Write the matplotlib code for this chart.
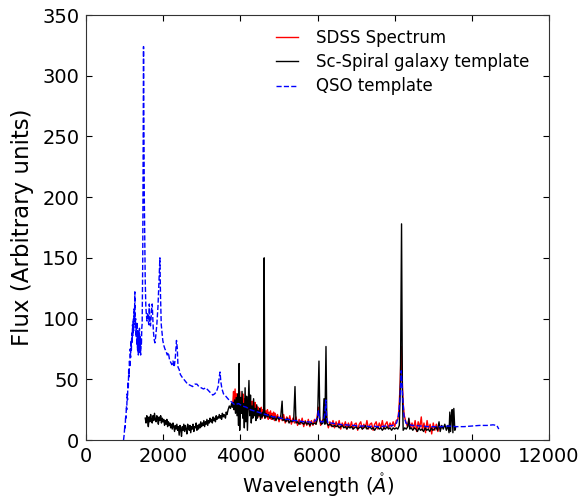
import matplotlib
matplotlib.use("Agg")
import matplotlib.pyplot as plt

# ---------------- data ----------------
sdss_wl = [3800, 3820, 3840, 3860, 3880, 3900, 3920, 3940, 3960, 3980, 4000, 4020, 4040, 4060, 4080,
           4100, 4120, 4140, 4160, 4180, 4200, 4220, 4240, 4260, 4280, 4300, 4320, 4340, 4360, 4380,
           4400, 4420, 4440, 4460, 4480, 4500, 4520, 4540, 4560, 4580, 4600, 4620, 4640, 4660, 4680,
           4700, 4720, 4740, 4760, 4780, 4800, 4820, 4840, 4860, 4880, 4900, 4920, 4960, 5000, 5040,
           5080, 5120, 5160, 5200, 5240, 5280, 5320, 5360, 5400, 5440, 5480, 5520, 5560, 5600, 5640,
           5680, 5720, 5760, 5800, 5840, 5880, 5920, 5960, 5990, 6020, 6050, 6080, 6120, 6160, 6190,
           6215, 6240, 6280, 6320, 6360, 6400, 6440, 6480, 6520, 6560, 6600, 6640, 6680, 6720, 6760,
           6800, 6840, 6880, 6920, 6960, 7000, 7040, 7080, 7120, 7160, 7200, 7240, 7280, 7320, 7360,
           7400, 7440, 7480, 7520, 7560, 7600, 7640, 7680, 7720, 7760, 7800, 7840, 7880, 7920, 7960,
           8000, 8040, 8080, 8110, 8140, 8170, 8195, 8220, 8250, 8290, 8330, 8370, 8410, 8450, 8490,
           8530, 8570, 8610, 8650, 8690, 8720, 8760, 8800, 8840, 8880, 8920, 8960, 9000, 9040, 9080,
           9120, 9160, 9200]
sdss_flux = [30, 40, 25, 42, 27, 38, 23, 36, 26, 40, 24, 35, 27, 38, 23,
             34, 26, 36, 21, 32, 25, 34, 22, 31, 24, 32, 21, 29, 23, 31,
             20, 28, 22, 27, 19, 26, 21, 27, 18, 25, 20, 26, 18, 24, 19,
             25, 17, 23, 18, 24, 17, 22, 18, 23, 16, 22, 17, 21, 15, 20,
             16, 21, 14, 19, 15, 20, 13, 18, 14, 19, 12, 17, 13, 18, 11,
             16, 12, 17, 11, 16, 12, 17, 13, 20, 27, 18, 12, 16, 17, 24,
             32, 15, 10, 15, 11, 16, 10, 15, 11, 16, 9, 14, 11, 15, 9,
             14, 10, 15, 9, 13, 14, 8, 13, 15, 9, 13, 10, 16, 9, 13,
             14, 8, 13, 15, 9, 14, 10, 16, 9, 13, 15, 10, 14, 11, 15,
             11, 16, 17, 25, 45, 77, 50, 30, 20, 15, 11, 17, 10, 14, 9,
             16, 7, 15, 10, 19, 8, 14, 6, 16, 9, 13, 5, 14, 8, 13,
             7, 12, 10]

gal_wl = [1530, 1550, 1570, 1590, 1610, 1630, 1650, 1670, 1690, 1710, 1730, 1750, 1770, 1790, 1810,
          1830, 1850, 1870, 1890, 1910, 1930, 1950, 1970, 1990, 2010, 2030, 2050, 2070, 2090, 2110,
          2130, 2150, 2170, 2190, 2210, 2230, 2250, 2270, 2290, 2310, 2330, 2350, 2370, 2390, 2410,
          2430, 2450, 2470, 2490, 2510, 2530, 2550, 2570, 2590, 2610, 2630, 2650, 2670, 2690, 2710,
          2730, 2750, 2770, 2790, 2810, 2830, 2850, 2870, 2890, 2910, 2930, 2950, 2970, 2990, 3010,
          3030, 3050, 3070, 3090, 3110, 3130, 3150, 3170, 3190, 3210, 3230, 3250, 3270, 3290, 3310,
          3330, 3350, 3370, 3390, 3410, 3430, 3450, 3470, 3490, 3510, 3530, 3550, 3570, 3590, 3610,
          3630, 3650, 3680, 3710, 3740, 3770, 3790, 3810, 3830, 3850, 3870, 3890, 3910, 3930, 3950,
          3965, 3980, 4000, 4020, 4040, 4060, 4080, 4100, 4120, 4140, 4160, 4180, 4200, 4220, 4240,
          4260, 4280, 4300, 4320, 4340, 4360, 4380, 4400, 4420, 4440, 4460, 4480, 4500, 4520, 4540,
          4560, 4580, 4600, 4615, 4630, 4660, 4690, 4720, 4760, 4800, 4840, 4880, 4920, 4960, 5000,
          5040, 5080, 5100, 5140, 5180, 5220, 5260, 5300, 5340, 5380, 5414, 5440, 5480, 5520, 5560,
          5600, 5640, 5680, 5720, 5760, 5800, 5840, 5880, 5920, 5960, 6000, 6036, 6060, 6100, 6140,
          6166, 6190, 6218, 6240, 6280, 6320, 6360, 6400, 6440, 6480, 6520, 6560, 6600, 6640, 6680,
          6720, 6760, 6800, 6840, 6880, 6920, 6960, 7000, 7040, 7080, 7120, 7160, 7200, 7240, 7280,
          7320, 7360, 7400, 7440, 7480, 7520, 7560, 7600, 7640, 7680, 7720, 7760, 7800, 7840, 7880,
          7920, 7960, 8000, 8040, 8080, 8120, 8150, 8178, 8200, 8220, 8260, 8300, 8340, 8368, 8390,
          8430, 8470, 8510, 8550, 8590, 8630, 8670, 8710, 8750, 8790, 8830, 8870, 8910, 8950, 8990,
          9030, 9070, 9110, 9150, 9180, 9220, 9260, 9300, 9340, 9380, 9410, 9430, 9450, 9470, 9490,
          9510, 9534, 9560, 9580]
gal_flux = [18, 14, 20, 16, 11, 19, 15, 21, 17, 14, 20, 16, 22, 17, 15,
            20, 17, 13, 19, 16, 20, 14, 18, 15, 17, 12, 16, 13, 17, 11,
            15, 12, 14, 10, 13, 9, 14, 11, 7, 12, 9, 13, 8, 11, 4,
            12, 9, 3, 11, 8, 13, 7, 12, 9, 5, 13, 10, 8, 12, 6,
            11, 9, 13, 7, 11, 10, 14, 8, 12, 9, 13, 10, 15, 11, 14,
            12, 16, 11, 15, 13, 17, 12, 16, 14, 18, 15, 17, 14, 19, 16,
            18, 15, 20, 17, 19, 18, 21, 18, 20, 17, 22, 19, 21, 20, 18,
            23, 21, 25, 28, 26, 30, 27, 31, 25, 33, 22, 35, 20, 38, 12,
            63, 8, 35, 22, 40, 18, 30, 10, 43, 15, 36, 8, 30, 49, 20,
            37, 14, 28, 18, 34, 20, 26, 16, 29, 18, 24, 20, 26, 17, 22,
            19, 23, 20, 150, 18, 22, 19, 21, 18, 20, 17, 19, 16, 19, 17,
            18, 32, 16, 17, 15, 18, 14, 16, 15, 16, 44, 14, 15, 13, 15,
            14, 13, 15, 13, 14, 12, 14, 13, 14, 13, 18, 65, 16, 13, 14,
            34, 13, 77, 14, 12, 13, 12, 11, 12, 11, 12, 10, 11, 12, 10,
            11, 9, 11, 10, 11, 9, 10, 11, 9, 10, 11, 9, 10, 12, 9,
            10, 11, 9, 10, 8, 10, 11, 9, 10, 8, 10, 9, 11, 9, 10,
            8, 10, 9, 10, 9, 12, 50, 178, 40, 8, 10, 9, 11, 18, 9,
            10, 8, 10, 9, 7, 10, 8, 9, 7, 10, 8, 9, 7, 10, 8,
            9, 11, 8, 15, 7, 12, 9, 13, 8, 12, 6, 23, 7, 20, 25,
            6, 26, 8, 10]

qso_wl = [967, 985, 1000, 1010, 1020, 1030, 1040, 1050, 1060, 1070, 1080, 1090, 1100, 1110, 1120,
          1130, 1140, 1150, 1160, 1170, 1180, 1190, 1200, 1210, 1220, 1230, 1240, 1250, 1260, 1270,
          1280, 1290, 1300, 1310, 1320, 1330, 1340, 1350, 1360, 1370, 1380, 1390, 1400, 1410, 1420,
          1430, 1440, 1450, 1465, 1475, 1485, 1495, 1505, 1515, 1530, 1545, 1560,
          1575, 1590, 1605, 1620, 1635, 1650, 1665, 1680, 1695, 1710, 1725, 1740, 1760, 1780, 1800,
          1830, 1860, 1890, 1910, 1925, 1945, 1965, 1985, 2010, 2040, 2070, 2100, 2130, 2160, 2190,
          2220, 2250, 2280, 2310, 2340, 2360, 2380, 2410, 2440, 2480, 2530, 2580, 2630, 2700, 2760,
          2820, 2870, 2920, 2980, 3040, 3100, 3160, 3220, 3280, 3330, 3380, 3420, 3450, 3470, 3490,
          3520, 3560, 3620, 3700, 3780, 3850, 3950, 4050, 4150, 4250, 4350, 4450, 4550, 4650, 4750,
          4850, 4950, 5050, 5150, 5250, 5350, 5450, 5550, 5650, 5750, 5850, 5950, 6000, 6020, 6040,
          6080, 6150, 6190, 6215, 6235, 6270, 6350, 6450, 6550, 6650, 6750, 6850, 6950, 7050, 7150,
          7250, 7350, 7450, 7550, 7650, 7750, 7850, 7950, 8050, 8100, 8140, 8170, 8200, 8240, 8290,
          8350, 8450, 8550, 8650, 8750, 8850, 9000, 9200, 9400, 9600, 9800, 10000, 10200, 10400, 10550,
          10650, 10700]
qso_flux = [0, 5, 12, 10, 20, 18, 28, 25, 38, 33, 48, 42, 58, 52, 66,
            60, 75, 68, 82, 74, 88, 80, 95, 86, 100, 90, 108, 98, 122, 95,
            100, 85, 93, 78, 97, 74, 90, 70, 88, 76, 92, 72, 86, 70, 84,
            78, 92, 96, 150, 250, 324, 260, 200, 170, 130, 110, 103,
            98, 105, 101, 95, 112, 98, 94, 100, 108, 112, 100, 90, 83, 80, 85,
            95, 110, 135, 150, 120, 95, 88, 82, 78, 75, 73, 70, 72, 66, 64,
            62, 65, 60, 68, 82, 76, 60, 58, 54, 52, 50, 48, 46, 45, 44,
            46, 46, 44, 43, 42, 43, 41, 39, 37, 38, 40, 44, 52, 56, 48,
            42, 38, 36, 33, 31, 29, 30, 28, 27, 25, 24, 23, 22, 21, 20,
            19, 19, 18, 17, 17, 16, 16, 15.5, 15, 15, 14.5, 16, 19, 24, 20,
            15, 15, 22, 33, 18, 14, 14, 13.5, 13, 12.5, 12.5, 12, 12, 11.5, 11.5,
            11.5, 11, 11.5, 11, 11, 11.5, 11.5, 12, 14, 20, 35, 57, 40, 20, 14,
            13, 12, 12, 11.5, 11.5, 11, 11, 11, 11.5, 11, 11, 11.5, 12, 12, 12.5,
            12, 9]

x_ticks = [0, 2000, 4000, 6000, 8000, 10000, 12000]
y_ticks = [0, 50, 100, 150, 200, 250, 300, 350]

# ---------------- figure ----------------
plt.rcParams['font.family'] = ['DejaVu Sans']
fig = plt.figure(figsize=(5.79, 5.0), dpi=100)
ax = fig.add_axes([0.149, 0.12, 0.799, 0.85])

ax.plot(sdss_wl, sdss_flux, color='red', lw=1.0, label='SDSS Spectrum')
ax.plot(gal_wl, gal_flux, color='black', lw=1.0, label='Sc-Spiral galaxy template')
ax.plot(qso_wl, qso_flux, color='blue', lw=1.0, ls='--', label='QSO template')

ax.set_xlim(0, 12000)
ax.set_ylim(0, 350)
ax.set_xticks(x_ticks)
ax.set_yticks(y_ticks)
ax.tick_params(direction='in', top=True, right=True, labelsize=14, length=4, width=0.8, pad=5)
for s in ax.spines.values():
    s.set_color('#333333')

ax.set_xlabel(r'Wavelength ($\mathring{A}$)', fontsize=14)
ax.set_ylabel('Flux (Arbitrary units)', fontsize=16.5, labelpad=6)

leg = ax.legend(loc='upper right', frameon=False, fontsize=12, handlelength=1.3,
                handletextpad=1.1, labelspacing=0.38, bbox_to_anchor=(0.99, 1.003))

fig.savefig('out.png', dpi=100)
